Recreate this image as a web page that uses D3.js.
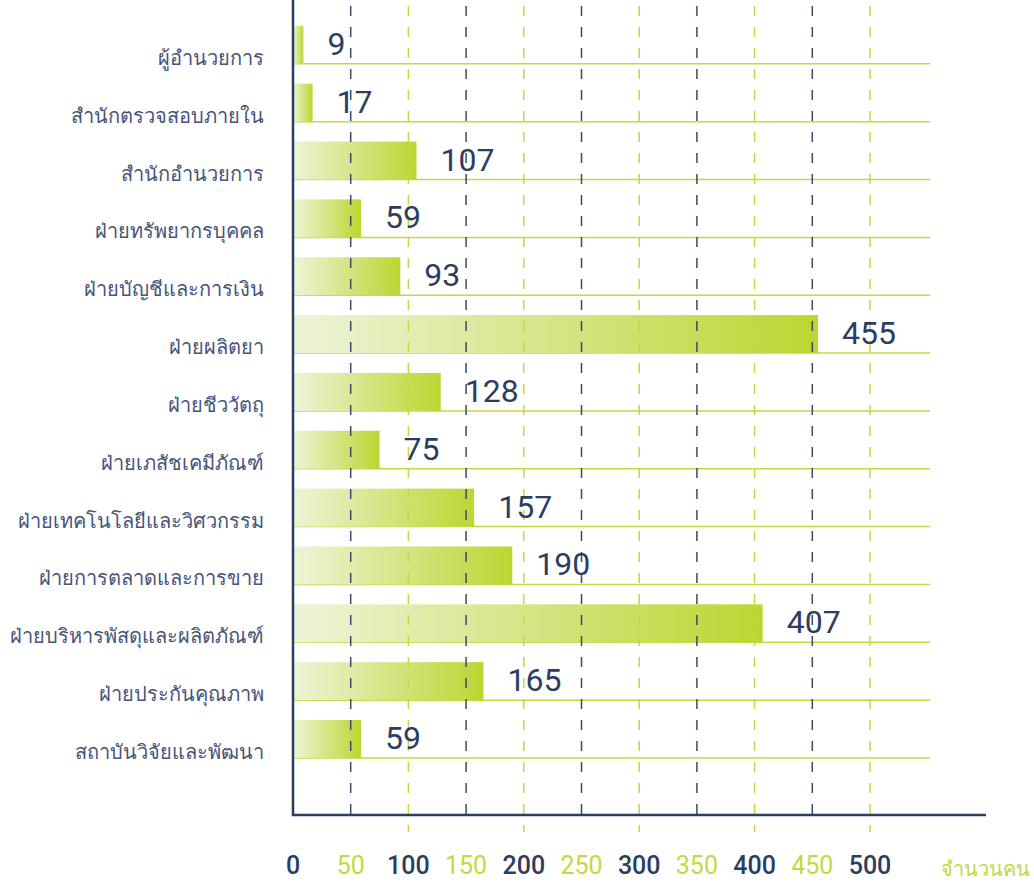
<!DOCTYPE html>
<html>
<head>
<meta charset="utf-8">
<script src="https://cdn.jsdelivr.net/npm/d3@7"></script>
<style>
  body { margin: 0; background: #fff; }
  svg { display: block; font-family: Roboto, "Noto Sans", sans-serif; }
</style>
</head>
<body>
<svg width="1034" height="882"></svg>
<script>
var categories = [
  'ผู้อำนวยการ',
  'สำนักตรวจสอบภายใน',
  'สำนักอำนวยการ',
  'ฝ่ายทรัพยากรบุคคล',
  'ฝ่ายบัญชีและการเงิน',
  'ฝ่ายผลิตยา',
  'ฝ่ายชีววัตถุ',
  'ฝ่ายเภสัชเคมีภัณฑ์',
  'ฝ่ายเทคโนโลยีและวิศวกรรม',
  'ฝ่ายการตลาดและการขาย',
  'ฝ่ายบริหารพัสดุและผลิตภัณฑ์',
  'ฝ่ายประกันคุณภาพ',
  'สถาบันวิจัยและพัฒนา'
]
var values = [9, 17, 107, 59, 93, 455, 128, 75, 157, 190, 407, 165, 59]
var ticks = [0, 50, 100, 150, 200, 250, 300, 350, 400, 450, 500]
var unitLabel = 'จำนวนคน'

var navy = '#2c3d62'
var lime = '#c2d940'

var svg = d3.select('svg')

var x = d3.scaleLinear().domain([0, 500]).range([293, 870])
var y = d3.scaleBand().domain(categories).range([6, 758]).padding(0)
var barH = 38
var axisY = 815

var defs = svg.append('defs')
var grad = defs.append('linearGradient')
  .attr('id', 'barGrad')
  .attr('x1', '0%').attr('x2', '100%').attr('y1', '0%').attr('y2', '0%')
grad.append('stop').attr('offset', '0%').attr('stop-color', '#eef4d8')
grad.append('stop').attr('offset', '100%').attr('stop-color', '#bcd631')

// row base lines
svg.append('g')
  .selectAll('line').data(categories).enter().append('line')
  .attr('x1', x(0)).attr('x2', 930)
  .attr('y1', function(d) { return y(d) + y.bandwidth() })
  .attr('y2', function(d) { return y(d) + y.bandwidth() })
  .attr('stroke', lime)
  .attr('stroke-width', 1.5)

// bars
svg.append('g')
  .selectAll('rect').data(values).enter().append('rect')
  .attr('x', x(0))
  .attr('y', function(d, i) { return y(categories[i]) + y.bandwidth() - barH })
  .attr('width', function(d) { return x(d) - x(0) })
  .attr('height', barH)
  .attr('fill', 'url(#barGrad)')

// dashed grid
svg.append('g')
  .selectAll('line').data(ticks.filter(function(t) { return t > 0 })).enter().append('line')
  .attr('x1', function(d) { return x(d) }).attr('x2', function(d) { return x(d) })
  .attr('y1', 0)
  .attr('y2', function(d) { return d % 100 === 0 ? 832 : axisY })
  .attr('stroke', function(d) { return d % 100 === 0 ? lime : '#3a4a6c' })
  .attr('stroke-width', 1.5)
  .attr('stroke-dasharray', '10,11')
  .attr('stroke-dashoffset', -6)

// axes lines
svg.append('line')
  .attr('x1', x(0)).attr('x2', x(0)).attr('y1', 0).attr('y2', axisY + 1)
  .attr('stroke', navy).attr('stroke-width', 2.5)
svg.append('line')
  .attr('x1', x(0) - 1).attr('x2', 986).attr('y1', axisY).attr('y2', axisY)
  .attr('stroke', navy).attr('stroke-width', 2.5)

// value labels
svg.append('g')
  .selectAll('text').data(values).enter().append('text')
  .attr('x', function(d) { return x(d) + 24 })
  .attr('y', function(d, i) { return y(categories[i]) + y.bandwidth() - 9 })
  .attr('fill', navy)
  .attr('font-size', 32)
  .text(function(d) { return d })

// category labels
svg.append('g')
  .selectAll('text').data(categories).enter().append('text')
  .attr('x', 264)
  .attr('y', function(d) { return y(d) + y.bandwidth() + 1 })
  .attr('text-anchor', 'end')
  .attr('fill', '#46547a')
  .attr('font-size', 20)
  .text(function(d) { return d })

// tick labels
svg.append('g')
  .selectAll('text').data(ticks).enter().append('text')
  .attr('x', function(d) { return x(d) })
  .attr('y', 874)
  .attr('text-anchor', 'middle')
  .attr('font-size', 25)
  .attr('font-weight', function(d) { return d % 100 === 0 ? 500 : 400 })
  .attr('fill', function(d) { return d % 100 === 0 ? navy : lime })
  .text(function(d) { return d })

svg.append('text')
  .attr('x', 1030).attr('y', 876)
  .attr('text-anchor', 'end')
  .attr('fill', lime)
  .attr('font-size', 20)
  .text(unitLabel)
</script>
</body>
</html>
